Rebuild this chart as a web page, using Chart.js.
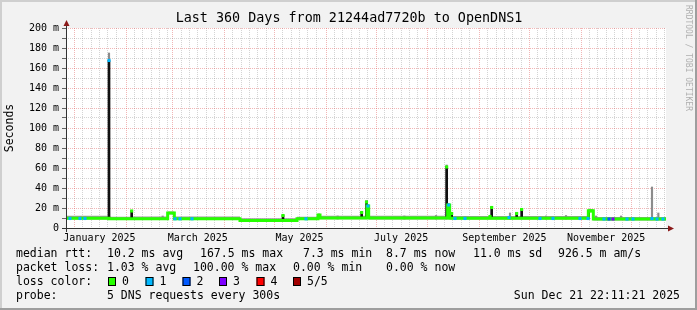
<!DOCTYPE html>
<html lang="en">
<head>
<meta charset="UTF-8">
<script src="https://cdn.jsdelivr.net/npm/chart.js"></script>
<style>
    body { margin: 0; padding: 0; background: #f2f2f2; }
    .chart-container { position: relative; width: 697px; height: 310px; }
</style>
</head>
<body>

<div class="chart-container">
    <canvas id="myChart"></canvas>
</div>

<script>
// --- DATA ---
// x values are days since the window start (Dec 26 2024 22:11:21), 360 days total
const medianDay = [0, 25.8, 40, 61, 65, 104.4, 138.6, 151.2, 152.4, 180.6, 181.6, 229, 230.2, 313.4, 316.4, 360];
const medianMs  = [9.8, 9.2, 9.3, 15, 9.2, 7.5, 9.2, 13, 10, 22, 10, 23, 9.8, 17.3, 8.9, 8.9];

// smoke band (spread of the 5 pings) at the same breakpoints
const smokeLoMs = [8.5, 7.9, 8.0, 13.5, 7.9, 6.3, 7.9, 11.5, 8.7, 20, 8.6, 21, 8.5, 16, 7.6, 7.6];
const smokeHiMs = [12.2, 11.3, 11.6, 16.5, 11.4, 9.7, 11.3, 14.5, 12.2, 24, 12.2, 25, 11.9, 19, 11.0, 11.0];

// short rtt spikes (black)
const spikeDay  = [25.8, 39.4, 130.2, 177.4, 180.3, 228.4, 231.4, 255.4, 270.4, 273.4, 313.6];
const spikeLow  = [9, 9, 7.5, 10, 10, 9.5, 9.5, 9.5, 9.5, 9.5, 9.5];
const spikeHigh = [167.5, 17.5, 13, 16, 27, 61.5, 15, 21, 15, 19, 17.5];

// smoke outliers (grey)
const smokeSpikeDay  = [25.8, 58, 163, 203, 222, 228.4, 266.4, 288, 300, 318, 333, 351.6, 355.4];
const smokeSpikeLow  = [9, 9, 9, 9, 9, 9, 9, 9, 9, 9, 9, 9, 9];
const smokeSpikeHigh = [175, 12, 12, 12, 12.5, 63, 15, 12, 12.5, 12, 12, 41, 15];

// points where the median is drawn in a loss colour
const markDay  = [2.4, 8.4, 11.4, 25.8, 39.4, 65.4, 68.4, 75.6, 130.2, 144, 177.4, 180.3, 181.2, 228.4, 229.6, 231.4, 233.4, 239.4, 254.4, 255.4, 265.8, 270.4, 273.4, 284.4, 292.2, 308.4, 313.2, 314.6, 322.8, 325.8, 328.2, 336.6, 340.2, 351.6, 354.6, 358.2];
const markMs   = [9.5, 9.5, 9.5, 167.5, 17, 9.2, 9.2, 9.2, 12.5, 9.2, 15.5, 26, 22, 61, 23, 14.5, 9.5, 9.5, 11.5, 20.5, 10.5, 14.5, 18.5, 9.5, 9.5, 9.5, 9.5, 17, 9, 9, 9, 9, 9, 9.5, 9, 9];
const markLoss = [1, 1, 1, 1, 0, 1, 1, 1, 0, 1, 0, 0, 1, 0, 1, 0, 1, 1, 0, 0, 1, 0, 0, 1, 1, 1, 1, 0, 1, 2, 3, 1, 1, 1, 1, 1];

const lossLabels = ['0', '1', '2', '3', '4', '5/5'];
const lossColors = ['#26ff00', '#00b8ff', '#0059ff', '#7e00ff', '#ff0000', '#a10000'];

const monthNames = ['January', 'February', 'March', 'April', 'May', 'June', 'July',
                    'August', 'September', 'October', 'November', 'December'];

const yTicks = [0, 10, 20, 30, 40, 50, 60, 70, 80, 90, 100, 110, 120, 130, 140, 150, 160, 170, 180, 190, 200];

const legendRows = [
    [[16, 'median rtt:'], [107, '10.2 ms avg'], [200, '167.5 ms max'], [303, '7.3 ms min'], [386, '8.7 ms now'], [473, '11.0 ms sd'], [558, '926.5 m am/s']],
    [[16, 'packet loss:'], [107, '1.03 % avg'], [193, '100.00 % max'], [293, '0.00 % min'], [386, '0.00 % now']],
    [[16, 'loss color:']],
    [[16, 'probe:'], [107, '5 DNS requests every 300s']]
];

// --- time axis helpers ---
const END = Date.UTC(2025, 11, 21, 22, 11, 21);
const START = END - 360 * 86400000;
const dayOf = (y, m, d) => (Date.UTC(y, m, d) - START) / 86400000;

const xMajor = new Set();
const xLabels = new Map();
let xTickValues = [];
for (let m = 0; m < 12; m++) {
    const first = dayOf(2025, m, 1);
    xMajor.add(first);
    xTickValues.push(first);
    [6, 11, 16, 21, 26].forEach(d => {
        const v = dayOf(2025, m, d);
        if (v <= 360) xTickValues.push(v);
    });
    if (m % 2 === 0) xLabels.set(dayOf(2025, m, 16), monthNames[m] + ' 2025');
}
xTickValues.sort((a, b) => a - b);

const GRID = 'rgba(143,143,143,0.38)';
const MGRID = 'rgba(222,81,81,0.42)';
const MONO = '"DejaVu Sans Mono", monospace';

// --- decoration: background, frame, axes with arrows, texts ---
const decor = {
    id: 'decor',
    beforeDraw(chart) {
        const { ctx, chartArea: a, width, height } = chart;
        ctx.save();
        ctx.fillStyle = '#f2f2f2';
        ctx.fillRect(0, 0, width, height);
        ctx.fillStyle = '#cfcfcf';
        ctx.fillRect(0, 0, width, 2);
        ctx.fillRect(0, 0, 2, height);
        ctx.fillStyle = '#9e9e9e';
        ctx.fillRect(0, height - 2, width, 2);
        ctx.fillRect(width - 2, 0, 2, height);
        ctx.fillStyle = '#ffffff';
        ctx.fillRect(a.left, a.top, a.right - a.left, a.bottom - a.top);
        ctx.restore();
    },
    afterDatasetsDraw(chart) {
        const { ctx, chartArea: a } = chart;
        ctx.save();
        ctx.strokeStyle = '#333333';
        ctx.lineWidth = 1;
        ctx.beginPath();
        ctx.moveTo(a.left - 4, a.bottom + 0.5);
        ctx.lineTo(a.right + 3, a.bottom + 0.5);
        ctx.moveTo(a.left + 0.5, a.bottom + 4);
        ctx.lineTo(a.left + 0.5, a.top - 3);
        ctx.stroke();
        ctx.fillStyle = '#8b1a1a';
        ctx.beginPath();
        ctx.moveTo(a.right + 2, a.bottom - 2.5);
        ctx.lineTo(a.right + 8, a.bottom + 0.5);
        ctx.lineTo(a.right + 2, a.bottom + 3.5);
        ctx.fill();
        ctx.beginPath();
        ctx.moveTo(a.left - 2.5, a.top - 2);
        ctx.lineTo(a.left + 0.5, a.top - 8);
        ctx.lineTo(a.left + 3.5, a.top - 2);
        ctx.fill();
        ctx.restore();
    },
    afterDraw(chart) {
        const { ctx } = chart;
        ctx.save();
        ctx.fillStyle = '#000000';
        ctx.textBaseline = 'middle';

        ctx.font = '13.4px ' + MONO;
        ctx.textAlign = 'center';
        ctx.fillText('Last 360 Days from 21244ad7720b to OpenDNS1', 349, 19);

        ctx.font = '11.5px ' + MONO;
        ctx.textAlign = 'left';
        legendRows.forEach((row, i) => {
            row.forEach(([x, t]) => ctx.fillText(t, x, 254 + i * 14));
        });

        // loss colour boxes
        const boxX = [108, 145.5, 182.5, 219, 256.5, 293];
        lossLabels.forEach((lbl, i) => {
            ctx.fillStyle = lossColors[i];
            ctx.fillRect(boxX[i], 277, 8, 9);
            ctx.strokeStyle = '#000000';
            ctx.lineWidth = 1;
            ctx.strokeRect(boxX[i] + 0.5, 277.5, 7, 8);
            ctx.fillStyle = '#000000';
            ctx.fillText(lbl, boxX[i] + 14, 282);
        });

        ctx.textAlign = 'right';
        ctx.fillText('Sun Dec 21 22:11:21 2025', 680, 296);

        // watermark
        ctx.font = '8px ' + MONO;
        ctx.fillStyle = '#b0b0b0';
        ctx.textAlign = 'center';
        ctx.translate(688, 58);
        ctx.rotate(Math.PI / 2);
        ctx.fillText('RRDTOOL / TOBI OETIKER', 0, 0);
        ctx.restore();
    }
};

const pts = (xs, ys) => xs.map((x, i) => ({ x: x, y: ys[i] }));
const bars = (xs, lo, hi) => xs.map((x, i) => ({ x: x, y: [lo[i], hi[i]] }));

const ctx = document.getElementById('myChart').getContext('2d');
new Chart(ctx, {
    type: 'line',
    data: {
        datasets: [
            {
                label: 'loss',
                data: pts(markDay, markMs),
                showLine: false,
                pointStyle: 'rect',
                pointRadius: 2.2,
                pointBorderWidth: 0,
                pointBackgroundColor: markLoss.map(l => lossColors[l]),
                order: 0
            },
            {
                label: 'median rtt',
                data: pts(medianDay, medianMs),
                stepped: 'before',
                borderColor: '#26ff00',
                borderWidth: 3,
                pointRadius: 0,
                fill: false,
                order: 1
            },
            {
                type: 'bar',
                label: 'spikes',
                data: bars(spikeDay, spikeLow, spikeHigh),
                backgroundColor: '#111111',
                grouped: false,
                barPercentage: 1,
                categoryPercentage: 1,
                maxBarThickness: 2,
                order: 2
            },
            {
                type: 'bar',
                label: 'smoke outliers',
                data: bars(smokeSpikeDay, smokeSpikeLow, smokeSpikeHigh),
                backgroundColor: '#8c8c8c',
                grouped: false,
                barPercentage: 1,
                categoryPercentage: 1,
                maxBarThickness: 1.5,
                order: 3
            },
            {
                label: 'smoke hi',
                data: pts(medianDay, smokeHiMs),
                stepped: 'before',
                borderWidth: 0,
                pointRadius: 0,
                backgroundColor: '#9a9a9a',
                fill: '+1',
                order: 4
            },
            {
                label: 'smoke lo',
                data: pts(medianDay, smokeLoMs),
                stepped: 'before',
                borderWidth: 0,
                pointRadius: 0,
                fill: false,
                order: 5
            }
        ]
    },
    options: {
        responsive: true,
        maintainAspectRatio: false,
        animation: false,
        events: [],
        layout: { padding: { top: 28, right: 31, bottom: 0, left: 0 } },
        plugins: {
            legend: { display: false },
            tooltip: { enabled: false }
        },
        scales: {
            x: {
                type: 'linear',
                min: 0,
                max: 360,
                offset: false,
                afterBuildTicks: (scale) => { scale.ticks = xTickValues.map(v => ({ value: v })); },
                afterFit: (scale) => { scale.height = 82; },
                grid: {
                    offset: false,
                    drawTicks: false,
                    lineWidth: 1,
                    color: (c) => (c.tick && xMajor.has(c.tick.value)) ? MGRID : GRID
                },
                border: { display: false, dash: [1, 1] },
                ticks: {
                    autoSkip: false,
                    maxRotation: 0,
                    minRotation: 0,
                    padding: 4,
                    color: '#000000',
                    font: { family: MONO, size: 10 },
                    callback: (v) => xLabels.get(v) || ''
                }
            },
            y: {
                min: 0,
                max: 200,
                afterBuildTicks: (scale) => { scale.ticks = yTicks.map(v => ({ value: v })); },
                afterFit: (scale) => { scale.width = 66; },
                grid: {
                    lineWidth: 1,
                    tickLength: 4,
                    tickColor: '#666666',
                    color: (c) => (c.tick && c.tick.value % 20 === 0) ? MGRID : GRID
                },
                border: { display: false, dash: [1, 1] },
                title: {
                    display: true,
                    text: 'Seconds',
                    color: '#000000',
                    font: { family: MONO, size: 11.5 },
                    padding: { top: 3, bottom: 0 }
                },
                ticks: {
                    autoSkip: false,
                    padding: 3,
                    color: '#000000',
                    font: { family: MONO, size: 10 },
                    callback: (v) => v % 20 === 0 ? (v === 0 ? '0' : v + ' m') : ''
                }
            }
        }
    },
    plugins: [decor]
});
</script>
</body>
</html>
